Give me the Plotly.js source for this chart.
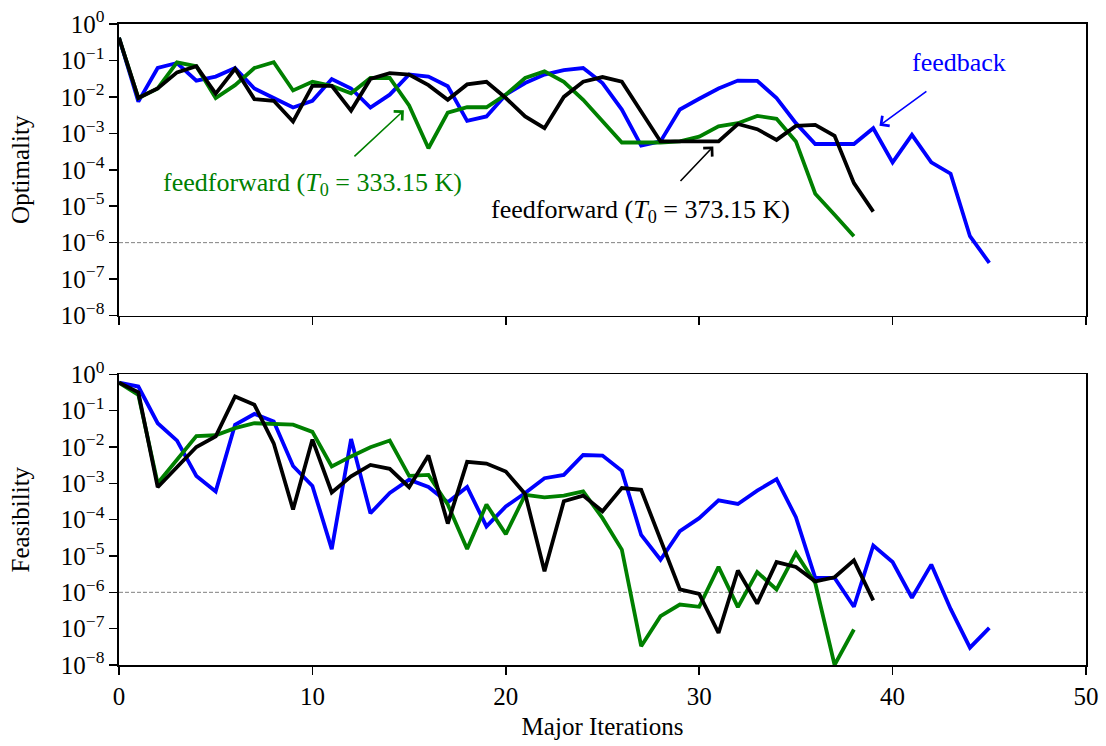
<!DOCTYPE html>
<html>
<head>
<meta charset="utf-8">
<script src="https://cdn.plot.ly/plotly-3.0.1.min.js"></script>
<style>html,body{margin:0;padding:0;background:#fff;}</style>
</head>
<body>
<div id="chart" style="width:1106px;height:746px;"></div>
<script>
// ---- Data ----
// Optimality
const optFeedback = [4.2e-1, 7.4e-3, 6.2e-2, 8.5e-2, 2.8e-2, 3.6e-2, 6.2e-2, 1.7e-2, 9.3e-3, 5.1e-3,
  7.8e-3, 3.1e-2, 1.7e-2, 5.1e-3, 1.15e-2, 4.1e-2, 3.6e-2, 1.95e-2, 2.2e-3, 2.9e-3,
  1.15e-2, 2.4e-2, 4.1e-2, 5.4e-2, 6.2e-2, 2.4e-2, 4.5e-3, 4.6e-4, 6.0e-4, 4.5e-3,
  8.9e-3, 1.7e-2, 2.8e-2, 2.75e-2, 9.3e-3, 1.9e-3, 5.1e-4, 5.1e-4, 5.1e-4, 1.38e-3,
  1.6e-4, 9.1e-4, 1.6e-4, 7.8e-5, 1.5e-6, 2.8e-7];
const optFF333 = [4.2e-1, 9.3e-3, 1.7e-2, 8.9e-2, 6.9e-2, 9.3e-3, 2.1e-2, 6.2e-2, 8.9e-2, 1.5e-2,
  2.6e-2, 2.0e-2, 1.26e-2, 3.3e-2, 3.3e-2, 5.8e-3, 3.9e-4, 3.7e-3, 5.2e-3, 5.2e-3,
  1.15e-2, 3.3e-2, 5.0e-2, 2.6e-2, 8.3e-3, 2.1e-3, 5.6e-4, 5.6e-4, 5.6e-4, 6.0e-4,
  8.1e-4, 1.55e-3, 1.9e-3, 3.0e-3, 2.5e-3, 6.0e-4, 2.2e-5, 5.8e-6, 1.5e-6];
const optFF373 = [4.2e-1, 9.3e-3, 1.7e-2, 4.7e-2, 6.9e-2, 1.23e-2, 5.9e-2, 8.7e-3, 7.8e-3, 2.1e-3,
  2.0e-2, 2.0e-2, 4.2e-3, 3.1e-2, 4.5e-2, 4.1e-2, 2.1e-2, 8.3e-3, 2.2e-2, 2.6e-2,
  9.3e-3, 2.9e-3, 1.38e-3, 1.0e-2, 2.6e-2, 3.5e-2, 2.6e-2, 4.0e-3, 6.0e-4, 6.0e-4,
  6.0e-4, 6.0e-4, 1.8e-3, 1.3e-3, 6.6e-4, 1.6e-3, 1.7e-3, 8.5e-4, 4.3e-5, 7.1e-6];
// Feasibility
const feasFeedback = [5.9e-1, 4.6e-1, 4.5e-2, 1.5e-2, 1.6e-3, 6.0e-4, 4.1e-2, 8.1e-2, 5.0e-2, 3.0e-3,
  8.5e-4, 1.55e-5, 1.66e-2, 1.5e-4, 5.4e-4, 1.26e-3, 7.9e-4, 3.0e-4, 7.9e-4, 6.5e-5,
  2.3e-4, 5.4e-4, 1.38e-3, 1.7e-3, 6.0e-3, 5.8e-3, 2.2e-3, 3.8e-5, 7.9e-6, 4.8e-5,
  1.1e-4, 3.4e-4, 2.7e-4, 6.3e-4, 1.3e-3, 1.17e-4, 2.5e-6, 2.5e-6, 4.0e-7, 1.95e-5,
  6.8e-6, 7.1e-7, 5.8e-6, 3.5e-7, 3.0e-8, 1.05e-7];
const feasFF333 = [5.9e-1, 2.7e-1, 1.0e-3, 4.5e-3, 2.0e-2, 2.1e-2, 3.3e-2, 4.5e-2, 4.3e-2, 4.1e-2,
  2.6e-2, 2.9e-3, 5.5e-3, 9.8e-3, 1.5e-2, 1.6e-3, 1.7e-3, 2.6e-4, 1.55e-5, 2.6e-4,
  4.0e-5, 4.8e-4, 4.1e-4, 4.6e-4, 6.0e-4, 1.1e-4, 1.5e-5, 3.3e-8, 2.2e-7, 4.6e-7,
  4.0e-7, 5.0e-6, 3.9e-7, 3.6e-6, 1.2e-6, 1.2e-5, 1.8e-6, 1.0e-8, 9.5e-8];
const feasFF373 = [5.9e-1, 3.2e-1, 7.8e-4, 2.9e-3, 1.0e-2, 1.95e-2, 2.45e-1, 1.45e-1, 1.26e-2, 1.9e-4,
  1.6e-2, 5.6e-4, 1.55e-3, 3.2e-3, 2.5e-3, 7.8e-4, 5.8e-3, 7.8e-5, 3.9e-3, 3.5e-3,
  2.1e-3, 5.1e-4, 3.8e-6, 3.2e-4, 4.6e-4, 1.7e-4, 7.4e-4, 6.6e-4, 2.8e-5, 1.2e-6,
  9.1e-7, 7.6e-8, 4.0e-6, 4.9e-7, 6.8e-6, 5.0e-6, 2.0e-6, 2.6e-6, 7.6e-6, 6.0e-7];

const tolerance = 1e-6;
const xTickVals = [0, 10, 20, 30, 40, 50];
const xTickText = ['0', '10', '20', '30', '40', '50'];
const yTickVals = [1, 1e-1, 1e-2, 1e-3, 1e-4, 1e-5, 1e-6, 1e-7, 1e-8];
const yTickText = ['10<sup>0</sup>', '10<sup>\u22121</sup>', '10<sup>\u22122</sup>', '10<sup>\u22123</sup>',
  '10<sup>\u22124</sup>', '10<sup>\u22125</sup>', '10<sup>\u22126</sup>', '10<sup>\u22127</sup>', '10<sup>\u22128</sup>'];

const seriesNames = ['feedback', 'feedforward (T0 = 333.15 K)', 'feedforward (T0 = 373.15 K)'];
const seriesColors = ['#0000ff', '#008000', '#000000'];

// ---- Build traces ----
const iters = arr => arr.map((_, i) => i);
function mk(y, k, xa, ya) {
  return {x: iters(y), y: y, type: 'scatter', mode: 'lines', name: seriesNames[k],
    xaxis: xa, yaxis: ya, line: {color: seriesColors[k], width: 3.8}, hoverinfo: 'x+y'};
}
const traces = [
  mk(optFeedback, 0, 'x', 'y'), mk(optFF333, 1, 'x', 'y'), mk(optFF373, 2, 'x', 'y'),
  mk(feasFeedback, 0, 'x2', 'y2'), mk(feasFF333, 1, 'x2', 'y2'), mk(feasFF373, 2, 'x2', 'y2')
];

const FONT = '"Liberation Serif", "Times New Roman", Times, serif';
const axisCommon = {
  showline: true, mirror: true, linecolor: 'black', linewidth: 1.6,
  showgrid: false, zeroline: false, ticks: 'outside', ticklen: 8, tickwidth: 1.5, tickcolor: 'black',
  tickfont: {family: FONT, size: 25, color: 'black'}
};
const xCommon = Object.assign({}, axisCommon, {range: [0, 50], tickmode: 'array', tickvals: xTickVals, ticktext: xTickText});
const yCommon = Object.assign({}, axisCommon, {type: 'log', range: [-8, 0], tickmode: 'array', tickvals: yTickVals, ticktext: yTickText});

const layout = {
  width: 1106, height: 746,
  margin: {l: 119, r: 20, t: 24, b: 81},
  paper_bgcolor: 'white', plot_bgcolor: 'white',
  showlegend: false,
  font: {family: FONT, size: 25, color: 'black'},
  xaxis: Object.assign({}, xCommon, {domain: [0, 1], anchor: 'y', showticklabels: false}),
  yaxis: Object.assign({}, yCommon, {domain: [0.5452, 1], anchor: 'x',
    title: {text: 'Optimality', font: {family: FONT, size: 25, color: 'black'}, standoff: 24}}),
  xaxis2: Object.assign({}, xCommon, {domain: [0, 1], anchor: 'y2',
    title: {text: 'Major Iterations', font: {family: FONT, size: 25, color: 'black'}, standoff: 9}}),
  yaxis2: Object.assign({}, yCommon, {domain: [0, 0.4535], anchor: 'x2',
    title: {text: 'Feasibility', font: {family: FONT, size: 25, color: 'black'}, standoff: 24}}),
  shapes: [
    {type: 'line', xref: 'x domain', yref: 'y', x0: 0, x1: 1, y0: tolerance, y1: tolerance,
     line: {color: '#808080', width: 1, dash: '4px,2px'}, layer: 'below'},
    {type: 'line', xref: 'x2 domain', yref: 'y2', x0: 0, x1: 1, y0: tolerance, y1: tolerance,
     line: {color: '#808080', width: 1, dash: '4px,2px'}, layer: 'below'}
  ],
  annotations: [
    // arrows
    {xref: 'x', yref: 'y', axref: 'x', ayref: 'y', x: 14.73, y: -2.37, ax: 11.94, ay: -3.75,
     text: ' ', showarrow: true, arrowhead: 4, arrowsize: 1.5, arrowwidth: 1.6, arrowcolor: seriesColors[1]},
    {xref: 'x', yref: 'y', axref: 'x', ayref: 'y', x: 30.73, y: -3.36, ax: 28.8, ay: -4.44,
     text: ' ', showarrow: true, arrowhead: 4, arrowsize: 1.5, arrowwidth: 1.6, arrowcolor: seriesColors[2]},
    {xref: 'x', yref: 'y', axref: 'x', ayref: 'y', x: 39.32, y: -2.79, ax: 41.98, ay: -1.76,
     text: ' ', showarrow: true, arrowhead: 4, arrowsize: 1.5, arrowwidth: 1.6, arrowcolor: seriesColors[0]},
    // labels
    {xref: 'x', yref: 'y', x: 10.0, y: -4.39, showarrow: false, xanchor: 'center', yanchor: 'middle',
     text: 'feedforward (<i>T</i><sub>0</sub> = 333.15 K)', font: {family: FONT, size: 26, color: seriesColors[1]}},
    {xref: 'x', yref: 'y', x: 26.94, y: -5.13, showarrow: false, xanchor: 'center', yanchor: 'middle',
     text: 'feedforward (<i>T</i><sub>0</sub> = 373.15 K)', font: {family: FONT, size: 26, color: seriesColors[2]}},
    {xref: 'x', yref: 'y', x: 43.43, y: -1.06, showarrow: false, xanchor: 'center', yanchor: 'middle',
     text: 'feedback', font: {family: FONT, size: 26, color: seriesColors[0]}}
  ]
};

Plotly.newPlot('chart', traces, layout, {staticPlot: true, displayModeBar: false});
</script>
</body>
</html>
